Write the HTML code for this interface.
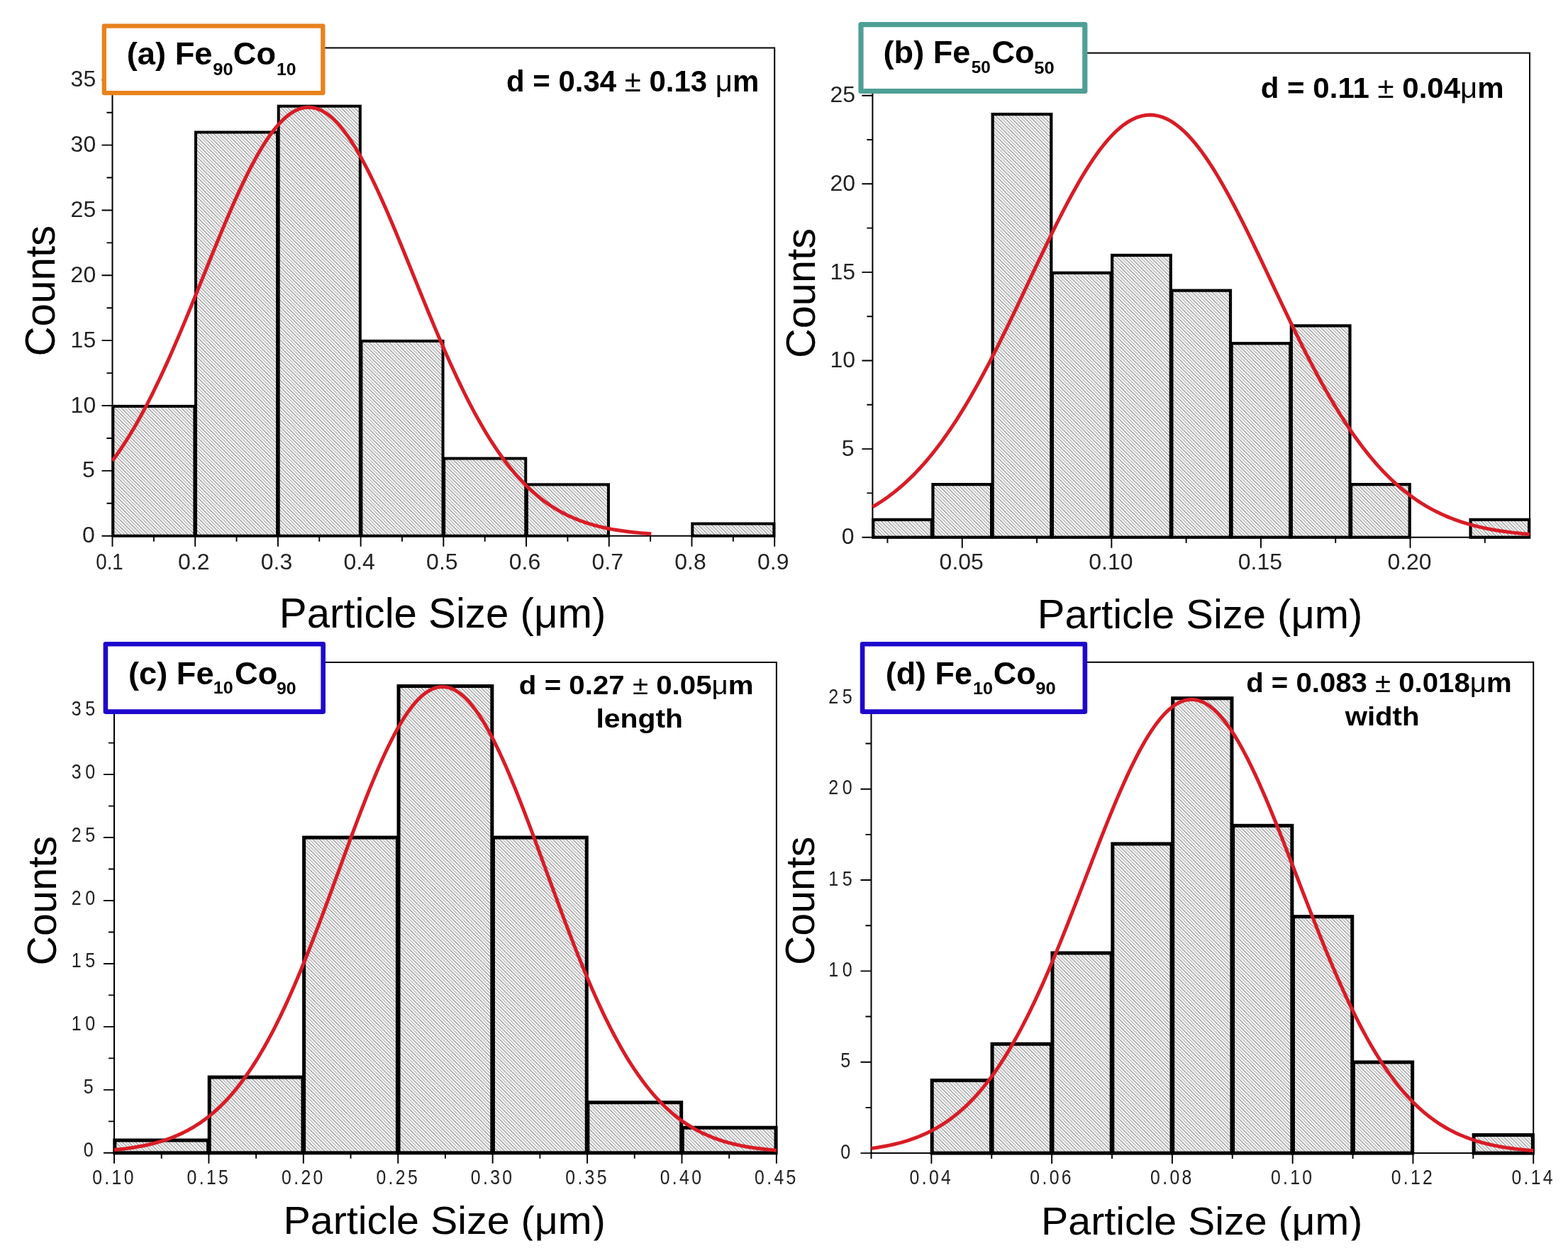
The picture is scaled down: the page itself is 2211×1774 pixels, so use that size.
<!DOCTYPE html><html><head><meta charset="utf-8"><title>Particle size distributions</title><style>html,body{margin:0;padding:0;background:#fff;overflow:hidden}svg{display:block}text{font-family:"Liberation Sans",Arial,sans-serif}</style></head><body>
<svg width="2211" height="1774" viewBox="0 0 2211 1774" fill="#000">
<defs><pattern id="hatch" patternUnits="userSpaceOnUse" width="9.4" height="9.4"><rect width="9.4" height="9.4" fill="#fbfbfb"/><path d="M-2,-2 L11.4,11.4 M-2,7.4 L2,11.4 M7.4,-2 L11.4,2" stroke="#767676" stroke-width="1.0"/><path d="M2.7,-2 L11.4,6.7 M-2,2.7 L6.7,11.4" stroke="#9e9e9e" stroke-width="1.0"/></pattern></defs>
<rect width="2211" height="1774" fill="#fff"/>
<rect x="159.30" y="572.90" width="115.11" height="182.80" fill="url(#hatch)" stroke="#000" stroke-width="4.0"/>
<rect x="276.01" y="186.50" width="115.11" height="569.20" fill="url(#hatch)" stroke="#000" stroke-width="4.0"/>
<rect x="392.73" y="149.70" width="115.11" height="606.00" fill="url(#hatch)" stroke="#000" stroke-width="4.0"/>
<rect x="509.44" y="480.90" width="115.11" height="274.80" fill="url(#hatch)" stroke="#000" stroke-width="4.0"/>
<rect x="626.15" y="646.50" width="115.11" height="109.20" fill="url(#hatch)" stroke="#000" stroke-width="4.0"/>
<rect x="742.86" y="683.30" width="115.11" height="72.40" fill="url(#hatch)" stroke="#000" stroke-width="4.0"/>
<rect x="976.29" y="738.50" width="115.11" height="17.20" fill="url(#hatch)" stroke="#000" stroke-width="4.0"/>
<rect x="158.50" y="67.50" width="933.70" height="688.20" fill="none" stroke="#000" stroke-width="2"/>
<path d="M143.50,755.70H158.50M143.50,663.85H158.50M143.50,572.00H158.50M143.50,480.15H158.50M143.50,388.30H158.50M143.50,296.45H158.50M143.50,204.60H158.50M143.50,112.75H158.50M150.50,709.78H158.50M150.50,617.93H158.50M150.50,526.08H158.50M150.50,434.23H158.50M150.50,342.38H158.50M150.50,250.53H158.50M150.50,158.68H158.50M158.50,755.70V770.70M275.21,755.70V770.70M391.93,755.70V770.70M508.64,755.70V770.70M625.35,755.70V770.70M742.06,755.70V770.70M858.78,755.70V770.70M975.49,755.70V770.70M1092.20,755.70V770.70M216.86,755.70V763.70M333.57,755.70V763.70M450.28,755.70V763.70M566.99,755.70V763.70M683.71,755.70V763.70M800.42,755.70V763.70M917.13,755.70V763.70M1033.84,755.70V763.70" stroke="#000" stroke-width="1.9" fill="none"/>
<polyline points="158.50,649.75 161.95,645.07 165.41,640.25 168.86,635.28 172.31,630.17 175.77,624.91 179.22,619.51 182.68,613.96 186.13,608.26 189.58,602.42 193.04,596.43 196.49,590.30 199.94,584.02 203.40,577.60 206.85,571.05 210.30,564.35 213.76,557.52 217.21,550.56 220.67,543.47 224.12,536.26 227.57,528.92 231.03,521.46 234.48,513.89 237.93,506.21 241.39,498.43 244.84,490.54 248.29,482.57 251.75,474.50 255.20,466.36 258.66,458.14 262.11,449.85 265.56,441.51 269.02,433.11 272.47,424.67 275.92,416.19 279.38,407.68 282.83,399.15 286.28,390.61 289.74,382.07 293.19,373.54 296.65,365.02 300.10,356.54 303.55,348.08 307.01,339.68 310.46,331.33 313.91,323.05 317.37,314.85 320.82,306.74 324.27,298.72 327.73,290.82 331.18,283.03 334.64,275.38 338.09,267.87 341.54,260.50 345.00,253.30 348.45,246.27 351.90,239.43 355.36,232.77 358.81,226.32 362.26,220.08 365.72,214.05 369.17,208.26 372.62,202.71 376.08,197.40 379.53,192.35 382.99,187.56 386.44,183.04 389.89,178.80 393.35,174.85 396.80,171.18 400.25,167.81 403.71,164.74 407.16,161.97 410.61,159.52 414.07,157.39 417.52,155.57 420.98,154.07 424.43,152.89 427.88,152.04 431.34,151.52 434.79,151.33 438.24,151.46 441.70,151.92 445.15,152.71 448.60,153.83 452.06,155.27 455.51,157.03 458.97,159.10 462.42,161.50 465.87,164.21 469.33,167.22 472.78,170.53 476.23,174.15 479.69,178.05 483.14,182.24 486.59,186.71 490.05,191.45 493.50,196.45 496.96,201.71 500.41,207.22 503.86,212.97 507.32,218.95 510.77,225.15 514.22,231.57 517.68,238.18 521.13,245.00 524.58,251.99 528.04,259.16 531.49,266.50 534.95,273.98 538.40,281.61 541.85,289.37 545.31,297.26 548.76,305.25 552.21,313.35 555.67,321.54 559.12,329.80 562.57,338.14 566.03,346.53 569.48,354.98 572.94,363.46 576.39,371.97 579.84,380.50 583.30,389.04 586.75,397.58 590.20,406.11 593.66,414.62 597.11,423.11 600.56,431.56 604.02,439.96 607.47,448.32 610.93,456.62 614.38,464.85 617.83,473.01 621.29,481.09 624.74,489.08 628.19,496.98 631.65,504.78 635.10,512.48 638.55,520.07 642.01,527.55 645.46,534.91 648.92,542.15 652.37,549.27 655.82,556.25 659.28,563.10 662.73,569.82 666.18,576.40 669.64,582.85 673.09,589.15 676.54,595.31 680.00,601.32 683.45,607.19 686.91,612.92 690.36,618.50 693.81,623.93 697.27,629.21 700.72,634.35 704.17,639.35 707.63,644.20 711.08,648.90 714.53,653.46 717.99,657.88 721.44,662.16 724.90,666.30 728.35,670.31 731.80,674.18 735.26,677.91 738.71,681.52 742.16,684.99 745.62,688.34 749.07,691.57 752.52,694.67 755.98,697.66 759.43,700.53 762.89,703.29 766.34,705.93 769.79,708.47 773.25,710.90 776.70,713.23 780.15,715.46 783.61,717.60 787.06,719.64 790.51,721.59 793.97,723.45 797.42,725.23 800.87,726.92 804.33,728.54 807.78,730.08 811.24,731.54 814.69,732.93 818.14,734.26 821.60,735.52 825.05,736.71 828.50,737.85 831.96,738.92 835.41,739.94 838.86,740.91 842.32,741.82 845.77,742.68 849.23,743.50 852.68,744.27 856.13,745.00 859.59,745.69 863.04,746.34 866.49,746.95 869.95,747.53 873.40,748.07 876.85,748.58 880.31,749.06 883.76,749.51 887.22,749.93 890.67,750.33 894.12,750.70 897.58,751.05 901.03,751.38 904.48,751.68 907.94,751.97 911.39,752.24 914.84,752.49 918.30,752.72" fill="none" stroke="#d81c26" stroke-width="5" stroke-linejoin="round"/>
<text fill="#222" x="133.70" y="765.30" font-size="32" text-anchor="end">0</text>
<text fill="#222" x="133.70" y="673.45" font-size="32" text-anchor="end">5</text>
<text fill="#222" x="135.20" y="581.60" font-size="32" text-anchor="end">10</text>
<text fill="#222" x="135.20" y="489.75" font-size="32" text-anchor="end">15</text>
<text fill="#222" x="135.20" y="397.90" font-size="32" text-anchor="end">20</text>
<text fill="#222" x="135.20" y="306.05" font-size="32" text-anchor="end">25</text>
<text fill="#222" x="135.20" y="214.20" font-size="32" text-anchor="end">30</text>
<text fill="#222" x="135.20" y="122.35" font-size="32" text-anchor="end">35</text>
<text fill="#222" x="154.50" y="803.2" font-size="32" text-anchor="middle" textLength="38.5" lengthAdjust="spacingAndGlyphs">0.1</text>
<text fill="#222" x="273.21" y="803.2" font-size="32" text-anchor="middle">0.2</text>
<text fill="#222" x="389.93" y="803.2" font-size="32" text-anchor="middle">0.3</text>
<text fill="#222" x="506.64" y="803.2" font-size="32" text-anchor="middle">0.4</text>
<text fill="#222" x="623.35" y="803.2" font-size="32" text-anchor="middle">0.5</text>
<text fill="#222" x="740.06" y="803.2" font-size="32" text-anchor="middle">0.6</text>
<text fill="#222" x="856.78" y="803.2" font-size="32" text-anchor="middle">0.7</text>
<text fill="#222" x="973.49" y="803.2" font-size="32" text-anchor="middle">0.8</text>
<text fill="#222" x="1090.20" y="803.2" font-size="32" text-anchor="middle">0.9</text>
<rect x="1231.20" y="732.84" width="82.64" height="24.86" fill="url(#hatch)" stroke="#000" stroke-width="4.2"/>
<rect x="1315.44" y="683.12" width="82.64" height="74.58" fill="url(#hatch)" stroke="#000" stroke-width="4.2"/>
<rect x="1399.67" y="161.06" width="82.64" height="596.64" fill="url(#hatch)" stroke="#000" stroke-width="4.2"/>
<rect x="1483.91" y="384.80" width="82.64" height="372.90" fill="url(#hatch)" stroke="#000" stroke-width="4.2"/>
<rect x="1568.15" y="359.94" width="82.64" height="397.76" fill="url(#hatch)" stroke="#000" stroke-width="4.2"/>
<rect x="1652.38" y="409.66" width="82.64" height="348.04" fill="url(#hatch)" stroke="#000" stroke-width="4.2"/>
<rect x="1736.62" y="484.24" width="82.64" height="273.46" fill="url(#hatch)" stroke="#000" stroke-width="4.2"/>
<rect x="1820.85" y="459.38" width="82.64" height="298.32" fill="url(#hatch)" stroke="#000" stroke-width="4.2"/>
<rect x="1905.09" y="683.12" width="82.64" height="74.58" fill="url(#hatch)" stroke="#000" stroke-width="4.2"/>
<rect x="2073.56" y="732.84" width="82.64" height="24.86" fill="url(#hatch)" stroke="#000" stroke-width="4.2"/>
<rect x="1230.40" y="74.70" width="926.60" height="683.00" fill="none" stroke="#000" stroke-width="2"/>
<path d="M1215.40,757.70H1230.40M1215.40,633.10H1230.40M1215.40,508.50H1230.40M1215.40,383.90H1230.40M1215.40,259.30H1230.40M1215.40,134.70H1230.40M1222.40,695.40H1230.40M1222.40,570.80H1230.40M1222.40,446.20H1230.40M1222.40,321.60H1230.40M1222.40,197.00H1230.40M1356.75,757.70V772.70M1567.35,757.70V772.70M1777.94,757.70V772.70M1988.53,757.70V772.70M1251.46,757.70V765.70M1462.05,757.70V765.70M1672.64,757.70V765.70M1883.23,757.70V765.70M2093.82,757.70V765.70" stroke="#000" stroke-width="1.9" fill="none"/>
<polyline points="1230.40,714.81 1234.61,712.32 1238.82,709.72 1243.04,707.00 1247.25,704.16 1251.46,701.20 1255.67,698.10 1259.88,694.88 1264.09,691.52 1268.31,688.03 1272.52,684.40 1276.73,680.62 1280.94,676.70 1285.15,672.63 1289.37,668.41 1293.58,664.04 1297.79,659.51 1302.00,654.83 1306.21,649.99 1310.42,644.99 1314.64,639.83 1318.85,634.51 1323.06,629.03 1327.27,623.39 1331.48,617.59 1335.70,611.62 1339.91,605.49 1344.12,599.20 1348.33,592.76 1352.54,586.15 1356.75,579.39 1360.97,572.48 1365.18,565.41 1369.39,558.20 1373.60,550.84 1377.81,543.35 1382.03,535.71 1386.24,527.95 1390.45,520.05 1394.66,512.04 1398.87,503.91 1403.08,495.67 1407.30,487.33 1411.51,478.89 1415.72,470.37 1419.93,461.76 1424.14,453.09 1428.36,444.35 1432.57,435.55 1436.78,426.71 1440.99,417.84 1445.20,408.94 1449.41,400.03 1453.63,391.11 1457.84,382.19 1462.05,373.30 1466.26,364.43 1470.47,355.61 1474.69,346.84 1478.90,338.13 1483.11,329.50 1487.32,320.96 1491.53,312.51 1495.74,304.19 1499.96,295.98 1504.17,287.92 1508.38,280.01 1512.59,272.26 1516.80,264.68 1521.02,257.29 1525.23,250.10 1529.44,243.12 1533.65,236.36 1537.86,229.84 1542.07,223.56 1546.29,217.53 1550.50,211.77 1554.71,206.29 1558.92,201.09 1563.13,196.18 1567.35,191.57 1571.56,187.27 1575.77,183.30 1579.98,179.64 1584.19,176.32 1588.40,173.34 1592.62,170.69 1596.83,168.40 1601.04,166.46 1605.25,164.87 1609.46,163.64 1613.68,162.77 1617.89,162.26 1622.10,162.11 1626.31,162.33 1630.52,162.91 1634.73,163.85 1638.95,165.16 1643.16,166.82 1647.37,168.83 1651.58,171.19 1655.79,173.91 1660.01,176.96 1664.22,180.35 1668.43,184.07 1672.64,188.11 1676.85,192.47 1681.06,197.13 1685.28,202.10 1689.49,207.36 1693.70,212.90 1697.91,218.72 1702.12,224.79 1706.34,231.12 1710.55,237.70 1714.76,244.50 1718.97,251.52 1723.18,258.75 1727.39,266.18 1731.61,273.79 1735.82,281.58 1740.03,289.52 1744.24,297.61 1748.45,305.84 1752.67,314.19 1756.88,322.66 1761.09,331.22 1765.30,339.86 1769.51,348.59 1773.72,357.37 1777.94,366.20 1782.15,375.08 1786.36,383.98 1790.57,392.89 1794.78,401.81 1799.00,410.72 1803.21,419.62 1807.42,428.49 1811.63,437.32 1815.84,446.10 1820.05,454.83 1824.27,463.49 1828.48,472.08 1832.69,480.59 1836.90,489.01 1841.11,497.33 1845.33,505.55 1849.54,513.65 1853.75,521.64 1857.96,529.51 1862.17,537.25 1866.38,544.86 1870.60,552.33 1874.81,559.65 1879.02,566.84 1883.23,573.87 1887.44,580.76 1891.66,587.49 1895.87,594.06 1900.08,600.48 1904.29,606.73 1908.50,612.83 1912.71,618.76 1916.93,624.53 1921.14,630.14 1925.35,635.59 1929.56,640.88 1933.77,646.00 1937.99,650.97 1942.20,655.78 1946.41,660.43 1950.62,664.92 1954.83,669.26 1959.04,673.45 1963.26,677.49 1967.47,681.39 1971.68,685.13 1975.89,688.74 1980.10,692.21 1984.32,695.54 1988.53,698.73 1992.74,701.80 1996.95,704.74 2001.16,707.55 2005.37,710.25 2009.59,712.83 2013.80,715.29 2018.01,717.64 2022.22,719.89 2026.43,722.03 2030.65,724.07 2034.86,726.01 2039.07,727.86 2043.28,729.62 2047.49,731.29 2051.70,732.87 2055.92,734.38 2060.13,735.81 2064.34,737.16 2068.55,738.44 2072.76,739.65 2076.98,740.80 2081.19,741.88 2085.40,742.90 2089.61,743.87 2093.82,744.78 2098.03,745.64 2102.25,746.44 2106.46,747.20 2110.67,747.92 2114.88,748.59 2119.09,749.22 2123.31,749.81 2127.52,750.37 2131.73,750.88 2135.94,751.37 2140.15,751.83 2144.36,752.25 2148.58,752.65 2152.79,753.02 2157.00,753.37" fill="none" stroke="#d81c26" stroke-width="5" stroke-linejoin="round"/>
<text fill="#222" x="1204.50" y="767.30" font-size="32" text-anchor="end">0</text>
<text fill="#222" x="1204.50" y="642.70" font-size="32" text-anchor="end">5</text>
<text fill="#222" x="1206.00" y="518.10" font-size="32" text-anchor="end">10</text>
<text fill="#222" x="1206.00" y="393.50" font-size="32" text-anchor="end">15</text>
<text fill="#222" x="1206.00" y="268.90" font-size="32" text-anchor="end">20</text>
<text fill="#222" x="1206.00" y="144.30" font-size="32" text-anchor="end">25</text>
<text fill="#222" x="1355.75" y="803.2" font-size="32" text-anchor="middle">0.05</text>
<text fill="#222" x="1566.35" y="803.2" font-size="32" text-anchor="middle">0.10</text>
<text fill="#222" x="1776.94" y="803.2" font-size="32" text-anchor="middle">0.15</text>
<text fill="#222" x="1987.53" y="803.2" font-size="32" text-anchor="middle">0.20</text>
<rect x="161.80" y="1608.01" width="131.81" height="17.79" fill="url(#hatch)" stroke="#000" stroke-width="5.0"/>
<rect x="295.21" y="1519.06" width="131.81" height="106.74" fill="url(#hatch)" stroke="#000" stroke-width="5.0"/>
<rect x="428.63" y="1181.05" width="131.81" height="444.75" fill="url(#hatch)" stroke="#000" stroke-width="5.0"/>
<rect x="562.04" y="967.57" width="131.81" height="658.23" fill="url(#hatch)" stroke="#000" stroke-width="5.0"/>
<rect x="695.46" y="1181.05" width="131.81" height="444.75" fill="url(#hatch)" stroke="#000" stroke-width="5.0"/>
<rect x="828.87" y="1554.64" width="131.81" height="71.16" fill="url(#hatch)" stroke="#000" stroke-width="5.0"/>
<rect x="962.29" y="1590.22" width="131.81" height="35.58" fill="url(#hatch)" stroke="#000" stroke-width="5.0"/>
<rect x="161.00" y="934.00" width="933.90" height="691.80" fill="none" stroke="#000" stroke-width="2"/>
<path d="M146.00,1625.80H161.00M146.00,1536.85H161.00M146.00,1447.90H161.00M146.00,1358.95H161.00M146.00,1270.00H161.00M146.00,1181.05H161.00M146.00,1092.10H161.00M146.00,1003.15H161.00M153.00,1581.33H161.00M153.00,1492.38H161.00M153.00,1403.42H161.00M153.00,1314.47H161.00M153.00,1225.53H161.00M153.00,1136.58H161.00M153.00,1047.62H161.00M153.00,958.67H161.00M161.00,1625.80V1640.80M294.41,1625.80V1640.80M427.83,1625.80V1640.80M561.24,1625.80V1640.80M694.66,1625.80V1640.80M828.07,1625.80V1640.80M961.49,1625.80V1640.80M1094.90,1625.80V1640.80M227.71,1625.80V1633.80M361.12,1625.80V1633.80M494.54,1625.80V1633.80M627.95,1625.80V1633.80M761.36,1625.80V1633.80M894.78,1625.80V1633.80M1028.19,1625.80V1633.80" stroke="#000" stroke-width="1.9" fill="none"/>
<polyline points="161.00,1621.50 165.25,1621.09 169.49,1620.64 173.74,1620.15 177.98,1619.63 182.22,1619.06 186.47,1618.44 190.72,1617.77 194.96,1617.05 199.20,1616.28 203.45,1615.44 207.70,1614.54 211.94,1613.57 216.19,1612.53 220.43,1611.41 224.68,1610.21 228.92,1608.93 233.16,1607.55 237.41,1606.09 241.65,1604.52 245.90,1602.84 250.15,1601.05 254.39,1599.15 258.63,1597.13 262.88,1594.98 267.12,1592.69 271.37,1590.27 275.62,1587.70 279.86,1584.97 284.10,1582.09 288.35,1579.05 292.60,1575.84 296.84,1572.45 301.09,1568.88 305.33,1565.13 309.58,1561.18 313.82,1557.03 318.07,1552.68 322.31,1548.11 326.56,1543.33 330.80,1538.34 335.04,1533.12 339.29,1527.66 343.53,1521.98 347.78,1516.06 352.02,1509.90 356.27,1503.50 360.52,1496.85 364.76,1489.96 369.00,1482.82 373.25,1475.43 377.50,1467.80 381.74,1459.92 385.99,1451.79 390.23,1443.41 394.48,1434.80 398.72,1425.95 402.97,1416.86 407.21,1407.55 411.45,1398.01 415.70,1388.26 419.94,1378.30 424.19,1368.14 428.44,1357.79 432.68,1347.26 436.93,1336.56 441.17,1325.71 445.42,1314.71 449.66,1303.58 453.91,1292.33 458.15,1280.98 462.40,1269.55 466.64,1258.05 470.88,1246.50 475.13,1234.92 479.38,1223.33 483.62,1211.74 487.87,1200.18 492.11,1188.66 496.36,1177.21 500.60,1165.86 504.85,1154.61 509.09,1143.50 513.34,1132.54 517.58,1121.76 521.83,1111.18 526.07,1100.83 530.32,1090.71 534.56,1080.87 538.81,1071.31 543.05,1062.06 547.30,1053.14 551.54,1044.57 555.79,1036.37 560.03,1028.56 564.27,1021.16 568.52,1014.19 572.76,1007.66 577.01,1001.59 581.26,995.99 585.50,990.87 589.74,986.26 593.99,982.16 598.24,978.58 602.48,975.53 606.73,973.02 610.97,971.05 615.21,969.63 619.46,968.77 623.71,968.46 627.95,968.71 632.20,969.51 636.44,970.86 640.69,972.77 644.93,975.22 649.18,978.21 653.42,981.73 657.66,985.77 661.91,990.32 666.15,995.38 670.40,1000.92 674.64,1006.94 678.89,1013.42 683.13,1020.35 687.38,1027.70 691.62,1035.46 695.87,1043.61 700.11,1052.14 704.36,1061.02 708.61,1070.23 712.85,1079.76 717.09,1089.57 721.34,1099.66 725.59,1109.99 729.83,1120.54 734.08,1131.30 738.32,1142.24 742.57,1153.34 746.81,1164.57 751.06,1175.91 755.30,1187.35 759.55,1198.86 763.79,1210.41 768.04,1222.00 772.28,1233.60 776.53,1245.18 780.77,1256.73 785.02,1268.24 789.26,1279.68 793.51,1291.04 797.75,1302.30 802.00,1313.44 806.24,1324.46 810.49,1335.33 814.73,1346.05 818.98,1356.60 823.22,1366.97 827.47,1377.15 831.71,1387.13 835.96,1396.91 840.20,1406.47 844.45,1415.81 848.69,1424.92 852.94,1433.80 857.18,1442.44 861.42,1450.84 865.67,1459.00 869.92,1466.91 874.16,1474.57 878.41,1481.99 882.65,1489.16 886.90,1496.08 891.14,1502.75 895.39,1509.18 899.63,1515.37 903.88,1521.32 908.12,1527.03 912.37,1532.50 916.61,1537.75 920.86,1542.77 925.10,1547.58 929.35,1552.16 933.59,1556.54 937.84,1560.71 942.08,1564.69 946.33,1568.46 950.57,1572.05 954.82,1575.46 959.06,1578.69 963.31,1581.76 967.55,1584.65 971.80,1587.39 976.04,1589.98 980.29,1592.42 984.53,1594.72 988.78,1596.89 993.02,1598.93 997.26,1600.84 1001.51,1602.64 1005.75,1604.33 1010.00,1605.91 1014.25,1607.39 1018.49,1608.78 1022.74,1610.07 1026.98,1611.28 1031.23,1612.40 1035.47,1613.45 1039.72,1614.43 1043.96,1615.34 1048.21,1616.18 1052.45,1616.97 1056.70,1617.69 1060.94,1618.37 1065.19,1618.99 1069.43,1619.56 1073.68,1620.10 1077.92,1620.59 1082.16,1621.04 1086.41,1621.46 1090.66,1621.84 1094.90,1622.19" fill="none" stroke="#d81c26" stroke-width="5" stroke-linejoin="round"/>
<text fill="#222" transform="translate(137.20,1631.30) scale(0.85,1)" font-size="29.5" text-anchor="end" letter-spacing="6.5">0</text>
<text fill="#222" transform="translate(137.20,1542.35) scale(0.85,1)" font-size="29.5" text-anchor="end" letter-spacing="6.5">5</text>
<text fill="#222" transform="translate(139.80,1453.40) scale(0.85,1)" font-size="29.5" text-anchor="end" letter-spacing="6.5">10</text>
<text fill="#222" transform="translate(139.80,1364.45) scale(0.85,1)" font-size="29.5" text-anchor="end" letter-spacing="6.5">15</text>
<text fill="#222" transform="translate(139.80,1275.50) scale(0.85,1)" font-size="29.5" text-anchor="end" letter-spacing="6.5">20</text>
<text fill="#222" transform="translate(139.80,1186.55) scale(0.85,1)" font-size="29.5" text-anchor="end" letter-spacing="6.5">25</text>
<text fill="#222" transform="translate(139.80,1097.60) scale(0.85,1)" font-size="29.5" text-anchor="end" letter-spacing="6.5">30</text>
<text fill="#222" transform="translate(139.80,1008.65) scale(0.85,1)" font-size="29.5" text-anchor="end" letter-spacing="6.5">35</text>
<text fill="#222" transform="translate(161.00,1670) scale(0.855,1)" font-size="29" text-anchor="middle" letter-spacing="3.9">0.10</text>
<text fill="#222" transform="translate(294.41,1670) scale(0.855,1)" font-size="29" text-anchor="middle" letter-spacing="3.9">0.15</text>
<text fill="#222" transform="translate(427.83,1670) scale(0.855,1)" font-size="29" text-anchor="middle" letter-spacing="3.9">0.20</text>
<text fill="#222" transform="translate(561.24,1670) scale(0.855,1)" font-size="29" text-anchor="middle" letter-spacing="3.9">0.25</text>
<text fill="#222" transform="translate(694.66,1670) scale(0.855,1)" font-size="29" text-anchor="middle" letter-spacing="3.9">0.30</text>
<text fill="#222" transform="translate(828.07,1670) scale(0.855,1)" font-size="29" text-anchor="middle" letter-spacing="3.9">0.35</text>
<text fill="#222" transform="translate(961.49,1670) scale(0.855,1)" font-size="29" text-anchor="middle" letter-spacing="3.9">0.40</text>
<text fill="#222" transform="translate(1094.90,1670) scale(0.855,1)" font-size="29" text-anchor="middle" letter-spacing="3.9">0.45</text>
<rect x="1314.18" y="1523.56" width="83.28" height="102.54" fill="url(#hatch)" stroke="#000" stroke-width="5.0"/>
<rect x="1399.06" y="1472.24" width="83.28" height="153.86" fill="url(#hatch)" stroke="#000" stroke-width="5.0"/>
<rect x="1483.95" y="1343.94" width="83.28" height="282.16" fill="url(#hatch)" stroke="#000" stroke-width="5.0"/>
<rect x="1568.83" y="1189.98" width="83.28" height="436.12" fill="url(#hatch)" stroke="#000" stroke-width="5.0"/>
<rect x="1653.71" y="984.70" width="83.28" height="641.40" fill="url(#hatch)" stroke="#000" stroke-width="5.0"/>
<rect x="1738.59" y="1164.32" width="83.28" height="461.78" fill="url(#hatch)" stroke="#000" stroke-width="5.0"/>
<rect x="1823.47" y="1292.62" width="83.28" height="333.48" fill="url(#hatch)" stroke="#000" stroke-width="5.0"/>
<rect x="1908.35" y="1497.90" width="83.28" height="128.20" fill="url(#hatch)" stroke="#000" stroke-width="5.0"/>
<rect x="2078.12" y="1600.54" width="83.28" height="25.56" fill="url(#hatch)" stroke="#000" stroke-width="5.0"/>
<rect x="1228.50" y="933.80" width="933.70" height="692.30" fill="none" stroke="#000" stroke-width="2"/>
<path d="M1213.50,1626.10H1228.50M1213.50,1497.75H1228.50M1213.50,1369.40H1228.50M1213.50,1241.05H1228.50M1213.50,1112.70H1228.50M1213.50,984.35H1228.50M1220.50,1561.92H1228.50M1220.50,1433.57H1228.50M1220.50,1305.22H1228.50M1220.50,1176.88H1228.50M1220.50,1048.52H1228.50M1313.38,1626.10V1641.10M1483.15,1626.10V1641.10M1652.91,1626.10V1641.10M1822.67,1626.10V1641.10M1992.44,1626.10V1641.10M2162.20,1626.10V1641.10M1228.50,1626.10V1634.10M1398.26,1626.10V1634.10M1568.03,1626.10V1634.10M1737.79,1626.10V1634.10M1907.55,1626.10V1634.10M2077.32,1626.10V1634.10" stroke="#000" stroke-width="1.9" fill="none"/>
<polyline points="1228.50,1619.46 1232.74,1618.87 1236.99,1618.23 1241.23,1617.54 1245.48,1616.80 1249.72,1616.01 1253.96,1615.15 1258.21,1614.23 1262.45,1613.25 1266.70,1612.19 1270.94,1611.06 1275.18,1609.85 1279.43,1608.55 1283.67,1607.17 1287.92,1605.70 1292.16,1604.13 1296.41,1602.45 1300.65,1600.67 1304.89,1598.78 1309.14,1596.77 1313.38,1594.64 1317.63,1592.39 1321.87,1589.99 1326.11,1587.46 1330.36,1584.79 1334.60,1581.97 1338.85,1578.99 1343.09,1575.85 1347.33,1572.55 1351.58,1569.07 1355.82,1565.42 1360.07,1561.59 1364.31,1557.57 1368.55,1553.36 1372.80,1548.95 1377.04,1544.34 1381.29,1539.53 1385.53,1534.50 1389.78,1529.26 1394.02,1523.81 1398.26,1518.13 1402.51,1512.24 1406.75,1506.11 1411.00,1499.76 1415.24,1493.18 1419.48,1486.38 1423.73,1479.34 1427.97,1472.07 1432.22,1464.57 1436.46,1456.84 1440.70,1448.89 1444.95,1440.71 1449.19,1432.31 1453.44,1423.69 1457.68,1414.86 1461.92,1405.83 1466.17,1396.59 1470.41,1387.16 1474.66,1377.54 1478.90,1367.74 1483.15,1357.78 1487.39,1347.65 1491.63,1337.38 1495.88,1326.96 1500.12,1316.42 1504.37,1305.77 1508.61,1295.02 1512.85,1284.19 1517.10,1273.28 1521.34,1262.32 1525.59,1251.33 1529.83,1240.31 1534.07,1229.29 1538.32,1218.28 1542.56,1207.31 1546.81,1196.39 1551.05,1185.53 1555.29,1174.77 1559.54,1164.12 1563.78,1153.60 1568.03,1143.23 1572.27,1133.03 1576.52,1123.02 1580.76,1113.22 1585.00,1103.66 1589.25,1094.34 1593.49,1085.30 1597.74,1076.54 1601.98,1068.09 1606.22,1059.97 1610.47,1052.20 1614.71,1044.79 1618.96,1037.75 1623.20,1031.12 1627.44,1024.89 1631.69,1019.09 1635.93,1013.72 1640.18,1008.81 1644.42,1004.36 1648.66,1000.38 1652.91,996.89 1657.15,993.89 1661.40,991.38 1665.64,989.38 1669.89,987.89 1674.13,986.91 1678.37,986.44 1682.62,986.50 1686.86,987.06 1691.11,988.15 1695.35,989.74 1699.59,991.84 1703.84,994.45 1708.08,997.55 1712.33,1001.14 1716.57,1005.21 1720.81,1009.76 1725.06,1014.76 1729.30,1020.21 1733.55,1026.10 1737.79,1032.41 1742.03,1039.13 1746.28,1046.24 1750.52,1053.72 1754.77,1061.57 1759.01,1069.76 1763.26,1078.27 1767.50,1087.08 1771.74,1096.18 1775.99,1105.55 1780.23,1115.17 1784.48,1125.01 1788.72,1135.06 1792.96,1145.29 1797.21,1155.69 1801.45,1166.24 1805.70,1176.92 1809.94,1187.70 1814.18,1198.56 1818.43,1209.50 1822.67,1220.48 1826.92,1231.49 1831.16,1242.51 1835.40,1253.53 1839.65,1264.52 1843.89,1275.47 1848.14,1286.36 1852.38,1297.18 1856.63,1307.91 1860.87,1318.54 1865.11,1329.05 1869.36,1339.44 1873.60,1349.69 1877.85,1359.78 1882.09,1369.72 1886.33,1379.48 1890.58,1389.06 1894.82,1398.45 1899.07,1407.65 1903.31,1416.65 1907.55,1425.43 1911.80,1434.01 1916.04,1442.36 1920.29,1450.50 1924.53,1458.40 1928.77,1466.09 1933.02,1473.54 1937.26,1480.76 1941.51,1487.76 1945.75,1494.52 1950.00,1501.05 1954.24,1507.36 1958.48,1513.43 1962.73,1519.29 1966.97,1524.92 1971.22,1530.33 1975.46,1535.52 1979.70,1540.51 1983.95,1545.28 1988.19,1549.85 1992.44,1554.22 1996.68,1558.39 2000.92,1562.37 2005.17,1566.17 2009.41,1569.78 2013.66,1573.22 2017.90,1576.49 2022.14,1579.60 2026.39,1582.55 2030.63,1585.34 2034.88,1587.98 2039.12,1590.48 2043.37,1592.85 2047.61,1595.08 2051.85,1597.19 2056.10,1599.17 2060.34,1601.04 2064.59,1602.80 2068.83,1604.45 2073.07,1606.00 2077.32,1607.45 2081.56,1608.82 2085.81,1610.09 2090.05,1611.29 2094.29,1612.41 2098.54,1613.45 2102.78,1614.42 2107.03,1615.33 2111.27,1616.17 2115.51,1616.96 2119.76,1617.69 2124.00,1618.36 2128.25,1618.99 2132.49,1619.58 2136.74,1620.12 2140.98,1620.62 2145.22,1621.08 2149.47,1621.51 2153.71,1621.90 2157.96,1622.26 2162.20,1622.60" fill="none" stroke="#d81c26" stroke-width="5" stroke-linejoin="round"/>
<text fill="#222" transform="translate(1204.70,1633.70) scale(0.85,1)" font-size="29.5" text-anchor="end" letter-spacing="6.5">0</text>
<text fill="#222" transform="translate(1204.70,1505.35) scale(0.85,1)" font-size="29.5" text-anchor="end" letter-spacing="6.5">5</text>
<text fill="#222" transform="translate(1207.30,1377.00) scale(0.85,1)" font-size="29.5" text-anchor="end" letter-spacing="6.5">10</text>
<text fill="#222" transform="translate(1207.30,1248.65) scale(0.85,1)" font-size="29.5" text-anchor="end" letter-spacing="6.5">15</text>
<text fill="#222" transform="translate(1207.30,1120.30) scale(0.85,1)" font-size="29.5" text-anchor="end" letter-spacing="6.5">20</text>
<text fill="#222" transform="translate(1207.30,991.95) scale(0.85,1)" font-size="29.5" text-anchor="end" letter-spacing="6.5">25</text>
<text fill="#222" transform="translate(1313.38,1670) scale(0.855,1)" font-size="29" text-anchor="middle" letter-spacing="3.9">0.04</text>
<text fill="#222" transform="translate(1483.15,1670) scale(0.855,1)" font-size="29" text-anchor="middle" letter-spacing="3.9">0.06</text>
<text fill="#222" transform="translate(1652.91,1670) scale(0.855,1)" font-size="29" text-anchor="middle" letter-spacing="3.9">0.08</text>
<text fill="#222" transform="translate(1822.67,1670) scale(0.855,1)" font-size="29" text-anchor="middle" letter-spacing="3.9">0.10</text>
<text fill="#222" transform="translate(1992.44,1670) scale(0.855,1)" font-size="29" text-anchor="middle" letter-spacing="3.9">0.12</text>
<text fill="#222" transform="translate(2162.20,1670) scale(0.855,1)" font-size="29" text-anchor="middle" letter-spacing="3.9">0.14</text>
<text transform="translate(77.40,499.60) rotate(-90)" x="-2.92" y="0" font-size="58.5" font-weight="normal" textLength="184.77" lengthAdjust="spacingAndGlyphs">Counts</text>
<text transform="translate(1149.10,502.10) rotate(-90)" x="-2.89" y="0" font-size="58.0" font-weight="normal" textLength="183.02" lengthAdjust="spacingAndGlyphs">Counts</text>
<text transform="translate(79.10,1358.60) rotate(-90)" x="-2.88" y="0" font-size="57.5" font-weight="normal" textLength="182.40" lengthAdjust="spacingAndGlyphs">Counts</text>
<text transform="translate(1147.60,1358.10) rotate(-90)" x="-2.86" y="0" font-size="57.5" font-weight="normal" textLength="181.27" lengthAdjust="spacingAndGlyphs">Counts</text>
<text x="393.84" y="885.30" font-size="58.5" font-weight="normal" textLength="460.50" lengthAdjust="spacingAndGlyphs">Particle Size (μm)</text>
<text x="1462.86" y="885.50" font-size="57.5" font-weight="normal" textLength="458.56" lengthAdjust="spacingAndGlyphs">Particle Size (μm)</text>
<text x="399.51" y="1740.40" font-size="55" font-weight="normal" textLength="454.28" lengthAdjust="spacingAndGlyphs">Particle Size (μm)</text>
<text x="1468.12" y="1740.50" font-size="55" font-weight="normal" textLength="453.27" lengthAdjust="spacingAndGlyphs">Particle Size (μm)</text>
<rect x="0" y="1749.5" width="2211" height="25" fill="#fff"/>
<rect x="146.85" y="36.55" width="308.50" height="94.50" fill="#fff" stroke="#e8821c" stroke-width="6.3" stroke-linejoin="round"/>
<rect x="1214.00" y="34.70" width="315.80" height="93.80" fill="#fff" stroke="#4f9f95" stroke-width="7.2" stroke-linejoin="round"/>
<rect x="148.90" y="908.20" width="306.80" height="95.40" fill="#fff" stroke="#1e08cc" stroke-width="6.6" stroke-linejoin="round"/>
<rect x="1216.10" y="908.20" width="313.80" height="95.40" fill="#fff" stroke="#1e08cc" stroke-width="6.6" stroke-linejoin="round"/>
<text x="178.73" y="91.40" font-size="45" font-weight="bold" textLength="120.84" lengthAdjust="spacingAndGlyphs">(a) Fe</text>
<text x="300.38" y="105.60" font-size="24.8" font-weight="bold" textLength="28.40" lengthAdjust="spacingAndGlyphs">90</text>
<text x="328.79" y="91.40" font-size="45" font-weight="bold" textLength="60.26" lengthAdjust="spacingAndGlyphs">Co</text>
<text x="390.11" y="105.90" font-size="24.8" font-weight="bold" textLength="27.53" lengthAdjust="spacingAndGlyphs">10</text>
<text x="1245.54" y="89.00" font-size="45" font-weight="bold" textLength="122.89" lengthAdjust="spacingAndGlyphs">(b) Fe</text>
<text x="1369.67" y="103.40" font-size="24.8" font-weight="bold" textLength="27.06" lengthAdjust="spacingAndGlyphs">50</text>
<text x="1398.49" y="89.00" font-size="45" font-weight="bold" textLength="60.26" lengthAdjust="spacingAndGlyphs">Co</text>
<text x="1458.23" y="103.70" font-size="24.8" font-weight="bold" textLength="28.45" lengthAdjust="spacingAndGlyphs">50</text>
<text x="181.04" y="964.80" font-size="45" font-weight="bold" textLength="120.53" lengthAdjust="spacingAndGlyphs">(c) Fe</text>
<text x="300.79" y="978.30" font-size="24.8" font-weight="bold" textLength="27.97" lengthAdjust="spacingAndGlyphs">10</text>
<text x="331.09" y="964.80" font-size="45" font-weight="bold" textLength="60.26" lengthAdjust="spacingAndGlyphs">Co</text>
<text x="390.01" y="978.60" font-size="24.8" font-weight="bold" textLength="27.65" lengthAdjust="spacingAndGlyphs">90</text>
<text x="1248.76" y="964.80" font-size="45" font-weight="bold" textLength="122.17" lengthAdjust="spacingAndGlyphs">(d) Fe</text>
<text x="1372.09" y="978.60" font-size="24.8" font-weight="bold" textLength="27.97" lengthAdjust="spacingAndGlyphs">10</text>
<text x="1400.70" y="964.80" font-size="45" font-weight="bold" textLength="59.94" lengthAdjust="spacingAndGlyphs">Co</text>
<text x="1460.28" y="978.90" font-size="24.8" font-weight="bold" textLength="28.40" lengthAdjust="spacingAndGlyphs">90</text>
<text x="714.02" y="129.40" font-size="41.7" font-weight="bold" textLength="356.34" lengthAdjust="spacingAndGlyphs">d = 0.34 <tspan font-weight="normal">±</tspan> 0.13 <tspan font-weight="normal">μ</tspan>m</text>
<text x="1777.72" y="137.70" font-size="40" font-weight="bold" textLength="343.03" lengthAdjust="spacingAndGlyphs">d = 0.11 <tspan font-weight="normal">±</tspan> 0.04<tspan font-weight="normal">μ</tspan>m</text>
<text x="731.89" y="978.60" font-size="36.7" font-weight="bold" textLength="330.66" lengthAdjust="spacingAndGlyphs">d = 0.27 <tspan font-weight="normal">±</tspan> 0.05<tspan font-weight="normal">μ</tspan>m</text>
<text x="840.44" y="1025.50" font-size="36" font-weight="bold" textLength="122.59" lengthAdjust="spacingAndGlyphs">length</text>
<text x="1757.19" y="976.30" font-size="38.2" font-weight="bold" textLength="374.43" lengthAdjust="spacingAndGlyphs">d = 0.083 <tspan font-weight="normal">±</tspan> 0.018<tspan font-weight="normal">μ</tspan>m</text>
<text x="1896.70" y="1023.30" font-size="36" font-weight="bold" textLength="104.83" lengthAdjust="spacingAndGlyphs">width</text>
</svg></body></html>
